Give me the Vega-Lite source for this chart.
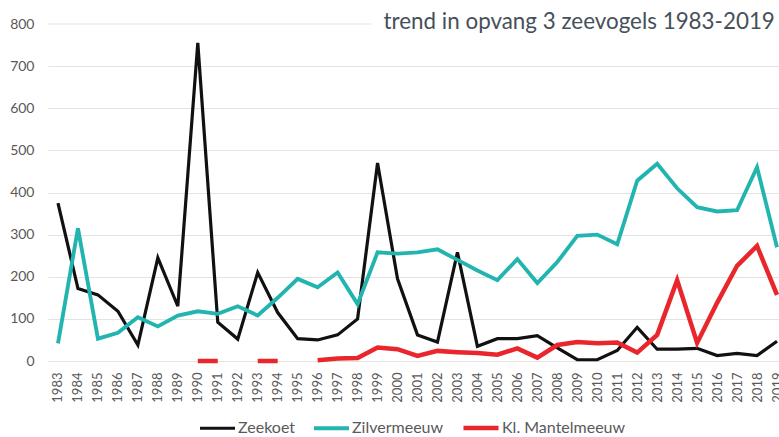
{
  "$schema": "https://vega.github.io/schema/vega-lite/v6.json",
  "width": 731,
  "height": 337,
  "autosize": {"type": "none"},
  "padding": {"left": 48, "top": 24, "right": 0, "bottom": 76},
  "background": "white",
  "config": {
    "view": {"stroke": null},
    "font": "Lato",
    "axis": {"labelFont": "Lato", "labelColor": "#595959", "domain": false, "ticks": false}
  },
  "layer": [
    {
      "data": {
        "values": [
          {"year": 1983, "species": "Zeekoet", "value": 375},
          {"year": 1984, "species": "Zeekoet", "value": 172},
          {"year": 1985, "species": "Zeekoet", "value": 157},
          {"year": 1986, "species": "Zeekoet", "value": 118},
          {"year": 1987, "species": "Zeekoet", "value": 38},
          {"year": 1988, "species": "Zeekoet", "value": 245},
          {"year": 1989, "species": "Zeekoet", "value": 130},
          {"year": 1990, "species": "Zeekoet", "value": 755},
          {"year": 1991, "species": "Zeekoet", "value": 92},
          {"year": 1992, "species": "Zeekoet", "value": 52},
          {"year": 1993, "species": "Zeekoet", "value": 210},
          {"year": 1994, "species": "Zeekoet", "value": 115},
          {"year": 1995, "species": "Zeekoet", "value": 53},
          {"year": 1996, "species": "Zeekoet", "value": 50},
          {"year": 1997, "species": "Zeekoet", "value": 62},
          {"year": 1998, "species": "Zeekoet", "value": 100},
          {"year": 1999, "species": "Zeekoet", "value": 470},
          {"year": 2000, "species": "Zeekoet", "value": 195},
          {"year": 2001, "species": "Zeekoet", "value": 62},
          {"year": 2002, "species": "Zeekoet", "value": 45},
          {"year": 2003, "species": "Zeekoet", "value": 258},
          {"year": 2004, "species": "Zeekoet", "value": 35},
          {"year": 2005, "species": "Zeekoet", "value": 53},
          {"year": 2006, "species": "Zeekoet", "value": 53},
          {"year": 2007, "species": "Zeekoet", "value": 60},
          {"year": 2008, "species": "Zeekoet", "value": 31},
          {"year": 2009, "species": "Zeekoet", "value": 3},
          {"year": 2010, "species": "Zeekoet", "value": 3},
          {"year": 2011, "species": "Zeekoet", "value": 25},
          {"year": 2012, "species": "Zeekoet", "value": 80},
          {"year": 2013, "species": "Zeekoet", "value": 28},
          {"year": 2014, "species": "Zeekoet", "value": 28},
          {"year": 2015, "species": "Zeekoet", "value": 30},
          {"year": 2016, "species": "Zeekoet", "value": 13},
          {"year": 2017, "species": "Zeekoet", "value": 18},
          {"year": 2018, "species": "Zeekoet", "value": 13},
          {"year": 2019, "species": "Zeekoet", "value": 47},
          {"year": 1983, "species": "Zilvermeeuw", "value": 42},
          {"year": 1984, "species": "Zilvermeeuw", "value": 315},
          {"year": 1985, "species": "Zilvermeeuw", "value": 53},
          {"year": 1986, "species": "Zilvermeeuw", "value": 67},
          {"year": 1987, "species": "Zilvermeeuw", "value": 104},
          {"year": 1988, "species": "Zilvermeeuw", "value": 82},
          {"year": 1989, "species": "Zilvermeeuw", "value": 108},
          {"year": 1990, "species": "Zilvermeeuw", "value": 118},
          {"year": 1991, "species": "Zilvermeeuw", "value": 112},
          {"year": 1992, "species": "Zilvermeeuw", "value": 130},
          {"year": 1993, "species": "Zilvermeeuw", "value": 108},
          {"year": 1994, "species": "Zilvermeeuw", "value": 150},
          {"year": 1995, "species": "Zilvermeeuw", "value": 195},
          {"year": 1996, "species": "Zilvermeeuw", "value": 175},
          {"year": 1997, "species": "Zilvermeeuw", "value": 210},
          {"year": 1998, "species": "Zilvermeeuw", "value": 135},
          {"year": 1999, "species": "Zilvermeeuw", "value": 258},
          {"year": 2000, "species": "Zilvermeeuw", "value": 255},
          {"year": 2001, "species": "Zilvermeeuw", "value": 258},
          {"year": 2002, "species": "Zilvermeeuw", "value": 265},
          {"year": 2003, "species": "Zilvermeeuw", "value": 240},
          {"year": 2004, "species": "Zilvermeeuw", "value": 215},
          {"year": 2005, "species": "Zilvermeeuw", "value": 192},
          {"year": 2006, "species": "Zilvermeeuw", "value": 242},
          {"year": 2007, "species": "Zilvermeeuw", "value": 185},
          {"year": 2008, "species": "Zilvermeeuw", "value": 235},
          {"year": 2009, "species": "Zilvermeeuw", "value": 297},
          {"year": 2010, "species": "Zilvermeeuw", "value": 300},
          {"year": 2011, "species": "Zilvermeeuw", "value": 277},
          {"year": 2012, "species": "Zilvermeeuw", "value": 428},
          {"year": 2013, "species": "Zilvermeeuw", "value": 468},
          {"year": 2014, "species": "Zilvermeeuw", "value": 410},
          {"year": 2015, "species": "Zilvermeeuw", "value": 365},
          {"year": 2016, "species": "Zilvermeeuw", "value": 355},
          {"year": 2017, "species": "Zilvermeeuw", "value": 358},
          {"year": 2018, "species": "Zilvermeeuw", "value": 460},
          {"year": 2019, "species": "Zilvermeeuw", "value": 270},
          {"year": 1983, "species": "Kl. Mantelmeeuw", "value": null},
          {"year": 1984, "species": "Kl. Mantelmeeuw", "value": null},
          {"year": 1985, "species": "Kl. Mantelmeeuw", "value": null},
          {"year": 1986, "species": "Kl. Mantelmeeuw", "value": null},
          {"year": 1987, "species": "Kl. Mantelmeeuw", "value": null},
          {"year": 1988, "species": "Kl. Mantelmeeuw", "value": null},
          {"year": 1989, "species": "Kl. Mantelmeeuw", "value": null},
          {"year": 1990, "species": "Kl. Mantelmeeuw", "value": 0},
          {"year": 1991, "species": "Kl. Mantelmeeuw", "value": 0},
          {"year": 1992, "species": "Kl. Mantelmeeuw", "value": null},
          {"year": 1993, "species": "Kl. Mantelmeeuw", "value": 0},
          {"year": 1994, "species": "Kl. Mantelmeeuw", "value": 0},
          {"year": 1995, "species": "Kl. Mantelmeeuw", "value": null},
          {"year": 1996, "species": "Kl. Mantelmeeuw", "value": 2},
          {"year": 1997, "species": "Kl. Mantelmeeuw", "value": 6},
          {"year": 1998, "species": "Kl. Mantelmeeuw", "value": 7},
          {"year": 1999, "species": "Kl. Mantelmeeuw", "value": 32},
          {"year": 2000, "species": "Kl. Mantelmeeuw", "value": 28},
          {"year": 2001, "species": "Kl. Mantelmeeuw", "value": 12},
          {"year": 2002, "species": "Kl. Mantelmeeuw", "value": 24},
          {"year": 2003, "species": "Kl. Mantelmeeuw", "value": 21},
          {"year": 2004, "species": "Kl. Mantelmeeuw", "value": 19},
          {"year": 2005, "species": "Kl. Mantelmeeuw", "value": 15},
          {"year": 2006, "species": "Kl. Mantelmeeuw", "value": 30},
          {"year": 2007, "species": "Kl. Mantelmeeuw", "value": 8},
          {"year": 2008, "species": "Kl. Mantelmeeuw", "value": 38},
          {"year": 2009, "species": "Kl. Mantelmeeuw", "value": 45},
          {"year": 2010, "species": "Kl. Mantelmeeuw", "value": 42},
          {"year": 2011, "species": "Kl. Mantelmeeuw", "value": 44},
          {"year": 2012, "species": "Kl. Mantelmeeuw", "value": 20},
          {"year": 2013, "species": "Kl. Mantelmeeuw", "value": 62},
          {"year": 2014, "species": "Kl. Mantelmeeuw", "value": 192},
          {"year": 2015, "species": "Kl. Mantelmeeuw", "value": 43},
          {"year": 2016, "species": "Kl. Mantelmeeuw", "value": 138},
          {"year": 2017, "species": "Kl. Mantelmeeuw", "value": 226},
          {"year": 2018, "species": "Kl. Mantelmeeuw", "value": 273},
          {"year": 2019, "species": "Kl. Mantelmeeuw", "value": 157}
        ]
      },
      "mark": {"type": "line", "invalid": "break-paths-show-domains", "strokeCap": "butt", "strokeJoin": "miter"},
      "encoding": {
        "x": {
          "field": "year", "type": "quantitative",
          "scale": {"domain": [1982.5, 2019.1], "nice": false, "zero": false},
          "axis": {
            "title": null, "grid": false, "format": "d", "labelAngle": -90, "labelAlign": "right", "labelBaseline": "middle",
            "labelPadding": 11, "labelFontSize": 13, "labelOverlap": false, "labelBound": false, "labelFlush": false, "tickCount": 60,
            "values": [1983,1984,1985,1986,1987,1988,1989,1990,1991,1992,1993,1994,1995,1996,1997,1998,1999,2000,2001,2002,2003,2004,2005,2006,2007,2008,2009,2010,2011,2012,2013,2014,2015,2016,2017,2018,2019]
          }
        },
        "y": {
          "field": "value", "type": "quantitative",
          "scale": {"domain": [0, 800], "nice": false},
          "axis": {
            "title": null, "values": [0,100,200,300,400,500,600,700,800], "grid": true, "gridColor": "#e3e3e3", "gridWidth": 1,
            "gridOpacity": {"condition": {"test": "datum.value == 800", "value": 0}, "value": 1},
            "labelFontSize": 14, "labelPadding": 14
          }
        },
        "color": {
          "field": "species", "type": "nominal",
          "scale": {"domain": ["Zeekoet", "Zilvermeeuw", "Kl. Mantelmeeuw"], "range": ["#111111", "#22b5b0", "#e8262b"]},
          "legend": {
            "title": null, "orient": "none", "direction": "horizontal", "legendX": 150, "legendY": 384,
            "symbolType": "stroke", "symbolSize": 1225, "symbolStrokeWidth": 4, "labelFontSize": 16, "labelFont": "Lato",
            "labelColor": "#595959", "labelOffset": 1, "columnPadding": 10, "padding": 0
          }
        },
        "strokeWidth": {
          "field": "species", "type": "nominal",
          "scale": {"domain": ["Zeekoet", "Zilvermeeuw", "Kl. Mantelmeeuw"], "range": [3.2, 4.5, 4]},
          "legend": null
        },
        "order": {"field": "year", "type": "quantitative"}
      }
    },
    {
      "data": {"values": [{}]},
      "mark": {"type": "rule", "color": "#e3e3e3", "strokeWidth": 1},
      "encoding": {
        "x": {"datum": 1982.5, "type": "quantitative"},
        "x2": {"datum": 1998.7},
        "y": {"datum": 800, "type": "quantitative"}
      }
    },
    {
      "data": {"values": [{}]},
      "mark": {"type": "text", "text": "trend in opvang 3 zeevogels 1983-2019", "align": "left", "baseline": "middle", "fontSize": 22.4, "font": "Lato", "color": "#46505a", "dy": -2},
      "encoding": {
        "x": {"datum": 1999.3, "type": "quantitative"},
        "y": {"datum": 800, "type": "quantitative"}
      }
    }
  ]
}
